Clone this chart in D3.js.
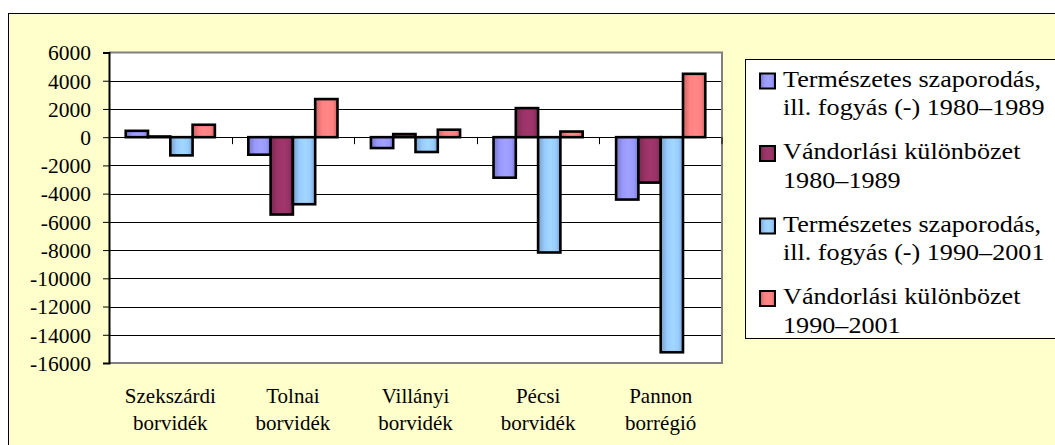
<!DOCTYPE html>
<html>
<head>
<meta charset="utf-8">
<script src="https://cdn.jsdelivr.net/npm/d3@7"></script>
<style>
  html, body { margin: 0; padding: 0; background: #ffffff; }
  svg { display: block; }
</style>
</head>
<body>
<svg id="chart" width="1055" height="445"></svg>
<script>
// ---- data ----
const categories = ["Szekszárdi borvidék", "Tolnai borvidék", "Villányi borvidék", "Pécsi borvidék", "Pannon borrégió"];
const categoryLines = [["Szekszárdi", "borvidék"], ["Tolnai", "borvidék"], ["Villányi", "borvidék"], ["Pécsi", "borvidék"], ["Pannon", "borrégió"]];
const seriesNames = [
  "Természetes szaporodás, ill. fogyás (-) 1980–1989",
  "Vándorlási különbözet 1980–1989",
  "Természetes szaporodás, ill. fogyás (-) 1990–2001",
  "Vándorlási különbözet 1990–2001"
];
const seriesLegendLines = [
  ["Természetes szaporodás,", "ill. fogyás (-) 1980–1989"],
  ["Vándorlási különbözet", "1980–1989"],
  ["Természetes szaporodás,", "ill. fogyás (-) 1990–2001"],
  ["Vándorlási különbözet", "1990–2001"]
];
const natural8089   = [450, -1240, -770, -2870, -4420];
const migration8089 = [50, -5480, 220, 2060, -3220];
const natural9001   = [-1290, -4750, -1050, -8170, -15240];
const migration9001 = [880, 2700, 530, 400, 4490];
const seriesValues = [natural8089, migration8089, natural9001, migration9001];
const seriesColors = ["#9999FF", "#993366", "#99CCFF", "#FF8080"];
const yTicks = [6000, 4000, 2000, 0, -2000, -4000, -6000, -8000, -10000, -12000, -14000, -16000];

const FONT = "'Liberation Serif', 'Times New Roman', Tinos, serif";

// ---- layout ----
const svg = d3.select("#chart");
const plot = { left: 109, top: 52.5, right: 722, bottom: 363 };

// outer frame
svg.append("rect").attr("x", 8.5).attr("y", 13.5).attr("width", 1100).attr("height", 500)
  .attr("fill", "#FFFFCC").attr("stroke", "#000").attr("stroke-width", 1);

// gradients
const defs = svg.append("defs");
seriesColors.forEach((c, i) => {
  const dark = d3.color(c).darker(0.7).formatHex();
  const light = d3.color(c).brighter(0.15).formatHex();
  const g = defs.append("linearGradient").attr("id", "grad" + i)
    .attr("x1", "0%").attr("x2", "100%").attr("y1", "0%").attr("y2", "0%");
  g.append("stop").attr("offset", "0%").attr("stop-color", dark);
  g.append("stop").attr("offset", "30%").attr("stop-color", c);
  g.append("stop").attr("offset", "55%").attr("stop-color", light);
  g.append("stop").attr("offset", "80%").attr("stop-color", c);
  g.append("stop").attr("offset", "100%").attr("stop-color", dark);
});

// plot area
svg.append("rect").attr("x", plot.left).attr("y", plot.top)
  .attr("width", plot.right - plot.left).attr("height", plot.bottom - plot.top)
  .attr("fill", "#fff");

const y = d3.scaleLinear().domain([-16000, 6000]).range([plot.bottom, plot.top]);
const x0 = d3.scaleBand().domain(categories).range([plot.left, plot.right]).padding(0);
const x1 = d3.scaleBand().domain(d3.range(seriesNames.length)).range([0, x0.bandwidth()])
  .paddingInner(0).paddingOuter(0.75);

// gridlines
svg.append("g").selectAll("line").data(yTicks.filter(t => t !== 6000 && t !== -16000 && t !== 0))
  .join("line")
  .attr("x1", plot.left).attr("x2", plot.right)
  .attr("y1", d => Math.round(y(d)) + 0.5).attr("y2", d => Math.round(y(d)) + 0.5)
  .attr("stroke", "#000").attr("stroke-width", 1);

// zero axis line with category ticks
svg.append("line").attr("x1", plot.left).attr("x2", plot.right)
  .attr("y1", Math.round(y(0)) + 0.5).attr("y2", Math.round(y(0)) + 0.5)
  .attr("stroke", "#000").attr("stroke-width", 1);
const xTickPos = categories.slice(1).map(c => x0(c));
svg.append("g").selectAll("line").data(xTickPos).join("line")
  .attr("x1", d => Math.round(d) + 0.5).attr("x2", d => Math.round(d) + 0.5)
  .attr("y1", y(0)).attr("y2", y(0) + 7)
  .attr("stroke", "#000").attr("stroke-width", 1);

// bars
const bars = svg.append("g");
seriesValues.forEach((vals, si) => {
  bars.append("g").selectAll("rect").data(vals).join("rect")
    .attr("x", (d, ci) => x0(categories[ci]) + x1(si))
    .attr("width", x1.bandwidth())
    .attr("y", d => y(Math.max(0, d)))
    .attr("height", d => Math.abs(y(d) - y(0)))
    .attr("fill", "url(#grad" + si + ")")
    .attr("stroke", "#000").attr("stroke-width", 2.6);
});

// plot border (gray) top/right/bottom
svg.append("path")
  .attr("d", `M${plot.left},${plot.top}H${plot.right}V${plot.bottom}H${plot.left}`)
  .attr("fill", "none").attr("stroke", "#808080").attr("stroke-width", 2);
// right-end tick on zero line
svg.append("line").attr("x1", plot.right).attr("x2", plot.right)
  .attr("y1", y(0)).attr("y2", y(0) + 7).attr("stroke", "#000").attr("stroke-width", 1);

// y axis
const yAxis = d3.axisLeft(y).tickValues(yTicks).tickSize(6).tickPadding(12).tickFormat(d => String(d));
const ya = svg.append("g").attr("transform", `translate(${plot.left},0)`).call(yAxis);
ya.attr("font-family", null).attr("font-size", null);
ya.select(".domain").attr("stroke", "#000").attr("stroke-width", 2);
ya.selectAll(".tick line").attr("stroke", "#000");
ya.selectAll(".tick text")
  .style("font-family", FONT).style("font-size", "21.5px").attr("fill", "#000")
  .attr("dy", "0.34em");

// category labels
const xl = svg.append("g");
categoryLines.forEach((lines, ci) => {
  const cx = x0(categories[ci]) + x0.bandwidth() / 2;
  lines.forEach((ln, li) => {
    xl.append("text").attr("x", cx).attr("y", 402.5 + li * 27.5)
      .attr("text-anchor", "middle")
      .style("font-family", FONT).style("font-size", "21px").attr("fill", "#000")
      .text(ln);
  });
});

// legend
const lg = svg.append("g");
lg.append("rect").attr("x", 745.5).attr("y", 59.5).attr("width", 400).attr("height", 279)
  .attr("fill", "#fff").attr("stroke", "#000").attr("stroke-width", 1);
seriesLegendLines.forEach((lines, si) => {
  const by = 86.5 + si * 72.5;
  lg.append("rect").attr("x", 760).attr("y", by - 13).attr("width", 15).attr("height", 15)
    .attr("fill", "url(#grad" + si + ")").attr("stroke", "#000").attr("stroke-width", 2);
  lines.forEach((ln, li) => {
    lg.append("text").attr("transform", `translate(783,${by + li * 28.5}) scale(1.09,1)`)
      .style("font-family", FONT).style("font-size", "24px").attr("fill", "#000")
      .text(ln);
  });
});
</script>
</body>
</html>
